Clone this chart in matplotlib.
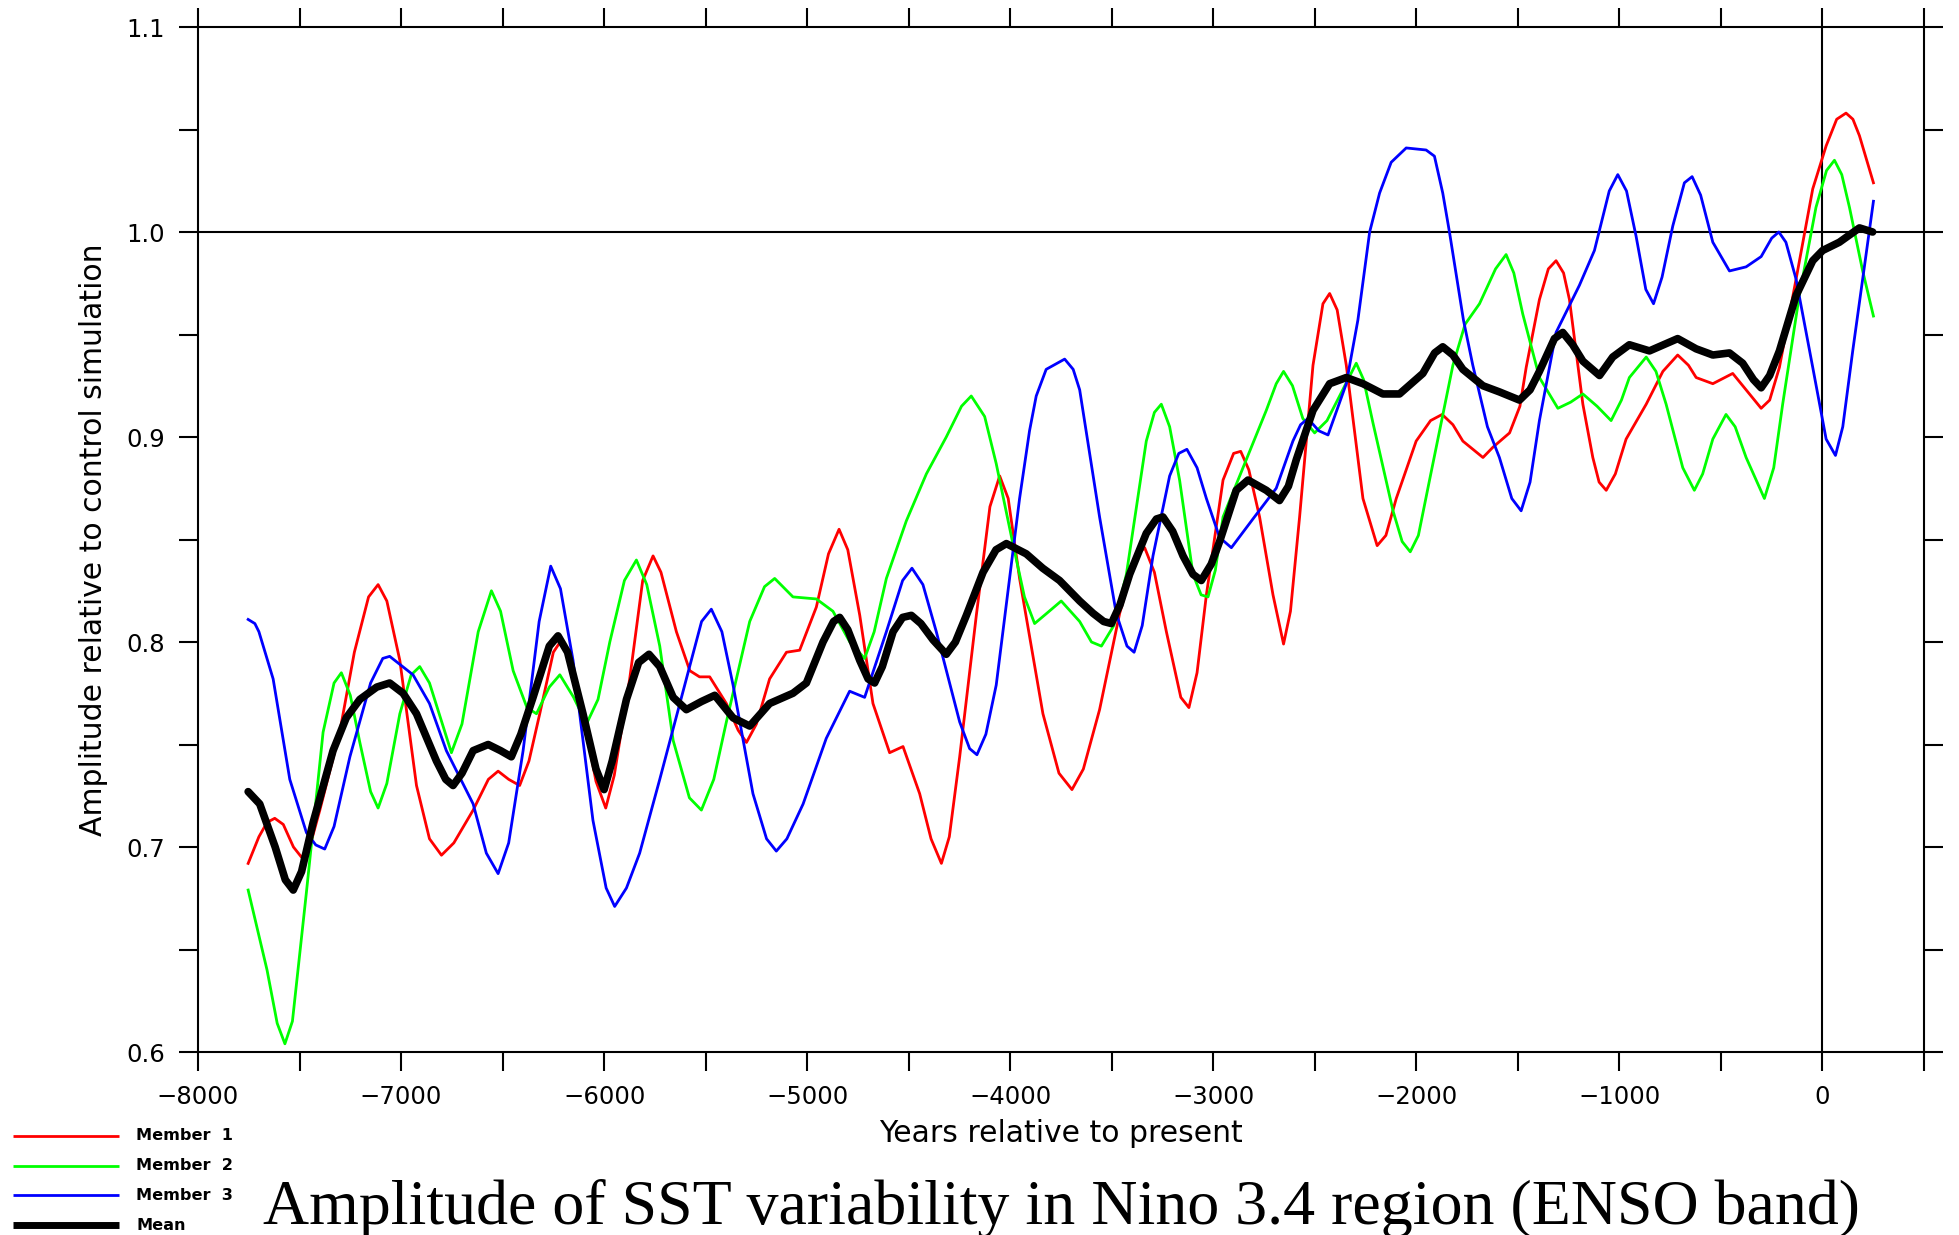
import matplotlib
matplotlib.use("Agg")
import matplotlib.pyplot as plt
from matplotlib.ticker import FixedLocator
from matplotlib.lines import Line2D

# ---- data ----
m1_x = [-7753, -7700, -7660, -7622, -7580, -7530, -7490, -7450, -7400, -7302, -7230, -7160,
        -7113, -7070, -7006, -6924, -6860, -6801, -6740, -6645, -6570, -6522, -6470, -6416,
        -6370, -6317, -6250, -6210, -6170, -6104, -6040, -5992, -5950, -5874, -5810, -5759,
        -5720, -5644, -5578, -5530, -5480, -5398, -5340, -5299, -5250, -5185, -5102, -5037,
        -4955, -4895, -4843, -4800, -4741, -4676, -4594, -4528, -4446, -4390, -4339, -4300,
        -4249, -4167, -4100, -4052, -4010, -3954, -3839, -3760, -3696, -3640, -3560, -3461,
        -3380, -3338, -3290, -3231, -3160, -3120, -3080, -3034, -2952, -2900, -2865, -2825,
        -2772, -2706, -2654, -2620, -2575, -2509, -2460, -2427, -2390, -2345, -2263, -2193,
        -2150, -2099, -2001, -1930, -1873, -1820, -1771, -1672, -1623, -1541, -1490, -1459,
        -1394, -1350, -1312, -1275, -1246, -1180, -1131, -1100, -1065, -1020, -967, -868,
        -786, -713, -660, -622, -540, -442, -376, -302, -260, -212, -130, -48, 18, 70, 116,
        150, 182, 251]
m1_y = [0.692, 0.705, 0.712, 0.714, 0.711, 0.700, 0.695, 0.700, 0.718, 0.756, 0.795, 0.822,
        0.828, 0.820, 0.791, 0.730, 0.704, 0.696, 0.702, 0.718, 0.733, 0.737, 0.733, 0.730,
        0.742, 0.765, 0.795, 0.801, 0.792, 0.765, 0.732, 0.719, 0.735, 0.782, 0.830, 0.842,
        0.834, 0.805, 0.786, 0.783, 0.783, 0.770, 0.757, 0.751, 0.760, 0.782, 0.795, 0.796,
        0.817, 0.843, 0.855, 0.845, 0.813, 0.770, 0.746, 0.749, 0.726, 0.704, 0.692, 0.705,
        0.744, 0.813, 0.866, 0.881, 0.870, 0.831, 0.765, 0.736, 0.728, 0.738, 0.767, 0.814,
        0.842, 0.846, 0.834, 0.805, 0.773, 0.768, 0.785, 0.823, 0.879, 0.892, 0.893, 0.884,
        0.861, 0.823, 0.799, 0.815, 0.861, 0.935, 0.965, 0.970, 0.962, 0.935, 0.870, 0.847,
        0.852, 0.870, 0.898, 0.908, 0.911, 0.906, 0.898, 0.890, 0.895, 0.902, 0.915, 0.934,
        0.967, 0.982, 0.986, 0.980, 0.967, 0.916, 0.890, 0.878, 0.874, 0.882, 0.899, 0.916,
        0.932, 0.940, 0.935, 0.929, 0.926, 0.931, 0.923, 0.914, 0.918, 0.934, 0.977, 1.021,
        1.042, 1.055, 1.058, 1.055, 1.047, 1.024]

m2_x = [-7753, -7660, -7610, -7572, -7535, -7466, -7384, -7330, -7294, -7250, -7203, -7150,
        -7113, -7070, -7006, -6950, -6908, -6860, -6752, -6700, -6620, -6555, -6510, -6448,
        -6380, -6333, -6270, -6218, -6150, -6087, -6030, -5972, -5900, -5841, -5790, -5726,
        -5660, -5580, -5521, -5460, -5398, -5283, -5210, -5160, -5070, -4955, -4873, -4790,
        -4717, -4670, -4610, -4512, -4413, -4315, -4240, -4192, -4126, -4069, -3987, -3930,
        -3880, -3820, -3749, -3658, -3600, -3551, -3490, -3428, -3330, -3290, -3256, -3215,
        -3166, -3100, -3060, -3026, -2990, -2952, -2837, -2739, -2690, -2654, -2610, -2559,
        -2501, -2440, -2378, -2296, -2260, -2214, -2115, -2070, -2030, -1990, -1935, -1820,
        -1760, -1689, -1610, -1558, -1520, -1476, -1394, -1303, -1240, -1180, -1110, -1041,
        -990, -951, -868, -820, -770, -688, -631, -590, -540, -475, -430, -376, -286, -240,
        -196, -114, -32, 20, 59, 95, 133, 198, 251]
m2_y = [0.679, 0.640, 0.614, 0.604, 0.615, 0.678, 0.756, 0.780, 0.785, 0.774, 0.751, 0.727,
        0.719, 0.731, 0.765, 0.784, 0.788, 0.780, 0.746, 0.760, 0.805, 0.825, 0.815, 0.786,
        0.768, 0.765, 0.778, 0.784, 0.773, 0.760, 0.772, 0.800, 0.830, 0.840, 0.828, 0.798,
        0.752, 0.724, 0.718, 0.733, 0.761, 0.810, 0.827, 0.831, 0.822, 0.821, 0.815, 0.800,
        0.792, 0.805, 0.831, 0.859, 0.882, 0.900, 0.915, 0.920, 0.910, 0.887, 0.848, 0.822,
        0.809, 0.814, 0.820, 0.810, 0.800, 0.798, 0.808, 0.833, 0.898, 0.912, 0.916, 0.905,
        0.879, 0.833, 0.823, 0.822, 0.835, 0.861, 0.889, 0.913, 0.926, 0.932, 0.925, 0.909,
        0.902, 0.908, 0.920, 0.936, 0.928, 0.907, 0.864, 0.849, 0.844, 0.852, 0.879, 0.935,
        0.955, 0.965, 0.982, 0.989, 0.980, 0.960, 0.929, 0.914, 0.917, 0.921, 0.915, 0.908,
        0.918, 0.929, 0.939, 0.932, 0.916, 0.885, 0.874, 0.882, 0.899, 0.911, 0.905, 0.890,
        0.870, 0.885, 0.916, 0.969, 1.012, 1.030, 1.035, 1.028, 1.012, 0.981, 0.959]

m3_x = [-7753, -7720, -7700, -7630, -7548, -7466, -7420, -7376, -7330, -7252, -7150, -7090,
        -7056, -6941, -6860, -6777, -6645, -6580, -6522, -6470, -6399, -6320, -6263, -6215,
        -6153, -6055, -5990, -5948, -5890, -5825, -5726, -5595, -5520, -5472, -5420, -5365,
        -5267, -5200, -5152, -5100, -5020, -4906, -4791, -4717, -4610, -4530, -4484, -4430,
        -4364, -4249, -4200, -4164, -4120, -4069, -3954, -3905, -3872, -3823, -3732, -3690,
        -3658, -3560, -3478, -3425, -3390, -3350, -3297, -3215, -3170, -3130, -3080, -3034,
        -2969, -2911, -2805, -2690, -2608, -2570, -2534, -2480, -2435, -2345, -2288, -2230,
        -2181, -2124, -2050, -1952, -1911, -1870, -1837, -1768, -1722, -1650, -1591, -1530,
        -1484, -1440, -1394, -1312, -1197, -1123, -1050, -1008, -965, -918, -870, -832, -790,
        -737, -680, -642, -600, -540, -458, -376, -302, -250, -215, -180, -130, -48, 18, 64,
        100, 149, 251]
m3_y = [0.811, 0.809, 0.805, 0.782, 0.733, 0.707, 0.701, 0.699, 0.710, 0.744, 0.780, 0.792,
        0.793, 0.784, 0.770, 0.747, 0.721, 0.697, 0.687, 0.702, 0.747, 0.810, 0.837, 0.826,
        0.791, 0.713, 0.680, 0.671, 0.680, 0.697, 0.733, 0.782, 0.810, 0.816, 0.805, 0.779,
        0.726, 0.704, 0.698, 0.704, 0.721, 0.753, 0.776, 0.773, 0.805, 0.830, 0.836, 0.828,
        0.805, 0.761, 0.748, 0.745, 0.755, 0.779, 0.870, 0.903, 0.920, 0.933, 0.938, 0.933,
        0.923, 0.861, 0.814, 0.798, 0.795, 0.808, 0.842, 0.881, 0.892, 0.894, 0.885, 0.870,
        0.851, 0.846, 0.860, 0.875, 0.898, 0.906, 0.909, 0.903, 0.901, 0.926, 0.957, 1.000,
        1.019, 1.034, 1.041, 1.040, 1.037, 1.019, 1.000, 0.957, 0.935, 0.905, 0.890, 0.870,
        0.864, 0.878, 0.908, 0.951, 0.974, 0.991, 1.020, 1.028, 1.020, 0.998, 0.972, 0.965,
        0.978, 1.003, 1.024, 1.027, 1.018, 0.995, 0.981, 0.983, 0.988, 0.997, 1.000, 0.995,
        0.977, 0.934, 0.899, 0.891, 0.905, 0.942, 1.015]

mean_x = [-7753, -7696, -7620, -7570, -7531, -7490, -7433, -7335, -7270, -7203, -7120, -7056,
          -6990, -6924, -6826, -6780, -6744, -6700, -6645, -6571, -6510, -6457, -6410, -6350,
          -6270, -6227, -6180, -6104, -6040, -6000, -5960, -5890, -5830, -5779, -5726, -5660,
          -5595, -5520, -5455, -5365, -5283, -5185, -5070, -5004, -4922, -4870, -4840, -4800,
          -4741, -4700, -4668, -4630, -4577, -4530, -4487, -4440, -4380, -4315, -4270, -4216,
          -4134, -4070, -4019, -3921, -3840, -3757, -3658, -3592, -3540, -3502, -3460, -3412,
          -3330, -3280, -3248, -3200, -3149, -3100, -3059, -3010, -2969, -2887, -2829, -2739,
          -2674, -2630, -2591, -2509, -2427, -2345, -2263, -2165, -2083, -1968, -1910, -1870,
          -1820, -1771, -1672, -1591, -1492, -1440, -1394, -1320, -1279, -1230, -1180, -1098,
          -1033, -951, -852, -713, -622, -540, -458, -393, -340, -302, -260, -212, -130, -48,
          1, 83, 182, 247]
mean_y = [0.727, 0.721, 0.700, 0.684, 0.679, 0.688, 0.712, 0.747, 0.763, 0.772, 0.778, 0.780,
          0.775, 0.765, 0.742, 0.733, 0.730, 0.736, 0.747, 0.750, 0.747, 0.744, 0.755, 0.773,
          0.798, 0.803, 0.795, 0.765, 0.738, 0.728, 0.742, 0.772, 0.790, 0.794, 0.788, 0.773,
          0.767, 0.771, 0.774, 0.763, 0.759, 0.770, 0.775, 0.780, 0.800, 0.810, 0.812, 0.806,
          0.791, 0.782, 0.780, 0.788, 0.805, 0.812, 0.813, 0.809, 0.801, 0.794, 0.800, 0.813,
          0.834, 0.845, 0.848, 0.843, 0.836, 0.830, 0.820, 0.814, 0.810, 0.809, 0.818, 0.833,
          0.853, 0.860, 0.861, 0.854, 0.842, 0.833, 0.830, 0.838, 0.849, 0.874, 0.879, 0.874,
          0.869, 0.876, 0.889, 0.913, 0.926, 0.929, 0.926, 0.921, 0.921, 0.931, 0.941, 0.944,
          0.940, 0.933, 0.925, 0.922, 0.918, 0.923, 0.932, 0.948, 0.951, 0.945, 0.937, 0.930,
          0.939, 0.945, 0.942, 0.948, 0.943, 0.940, 0.941, 0.936, 0.928, 0.924, 0.930, 0.942,
          0.969, 0.986, 0.991, 0.995, 1.002, 1.000]

series_labels = ["Member  1", "Member  2", "Member  3", "Mean"]
x_major = [-8000, -7000, -6000, -5000, -4000, -3000, -2000, -1000, 0]
x_minor = [-7500, -6500, -5500, -4500, -3500, -2500, -1500, -500, 500]
y_major = [0.6, 0.7, 0.8, 0.9, 1.0, 1.1]
y_minor = [0.65, 0.75, 0.85, 0.95, 1.05]
title = "Amplitude of SST variability in Nino 3.4 region (ENSO band)"
xlabel = "Years relative to present"
ylabel = "Amplitude relative to control simulation"

# ---- figure ----
W, H = 1959, 1235
fig = plt.figure(figsize=(W / 100, H / 100), dpi=100)
ax = fig.add_axes([198 / W, 1 - 1052 / H, (1924 - 198) / W, (1052 - 27) / H])

lw_thin = 2.0
l1, = ax.plot(m1_x, m1_y, color="#ff0000", lw=lw_thin, solid_joinstyle="round", zorder=3)
l2, = ax.plot(m2_x, m2_y, color="#00ff00", lw=lw_thin, solid_joinstyle="round", zorder=3)
l3, = ax.plot(m3_x, m3_y, color="#0000ff", lw=lw_thin, solid_joinstyle="round", zorder=3)
l4, = ax.plot(mean_x, mean_y, color="black", lw=5.5, solid_joinstyle="round",
              solid_capstyle="round", zorder=4)

ax.axhline(1.0, color="black", lw=1.5, zorder=2)
ax.axvline(0, color="black", lw=1.5, zorder=2)

ax.set_xlim(-8000, 500)
ax.set_ylim(0.6, 1.1)

ax.xaxis.set_major_locator(FixedLocator(x_major))
ax.xaxis.set_minor_locator(FixedLocator(x_minor))
ax.yaxis.set_major_locator(FixedLocator(y_major))
ax.yaxis.set_minor_locator(FixedLocator(y_minor))
ax.set_xticklabels(["\u2212" + str(abs(v)) if v < 0 else str(v) for v in x_major])
ax.set_yticklabels(["%.1f" % v for v in y_major])

for s in ax.spines.values():
    s.set_linewidth(1.5)
ax.tick_params(which="both", direction="out", length=14, width=1.5,
               top=True, right=True, bottom=True, left=True,
               labeltop=False, labelright=False)
ax.tick_params(which="major", labelsize=17.5, pad=10)

ax.set_xlabel(xlabel, fontsize=21.5)
ax.set_ylabel(ylabel, fontsize=21.5)
ax.xaxis.label.set_va("center")
ax.yaxis.label.set_va("center")
ax.xaxis.set_label_coords(0.5, (1052 - 1134) / 1025)
ax.yaxis.set_label_coords((94 - 198) / 1726, 0.5)

fig.text(1061 / W, 1 - 1209 / H, title, ha="center", va="center",
         family="Liberation Serif", fontsize=46)

# legend (bottom-left of figure)
leg_rows = [1136, 1166, 1195, 1225]
leg_lines = [l1, l2, l3, l4]
leg_lw = [2.0, 2.0, 2.0, 5.0]
for row, line, lab, lw in zip(leg_rows, leg_lines, series_labels, leg_lw):
    yy = 1 - row / H
    fig.add_artist(Line2D([13 / W, 119 / W], [yy, yy], color=line.get_color(), lw=lw,
                          solid_capstyle="butt"))
    fig.text(136 / W, yy, lab, ha="left", va="center", fontsize=11.6, fontweight="bold")

fig.savefig("out.png", dpi=100)
